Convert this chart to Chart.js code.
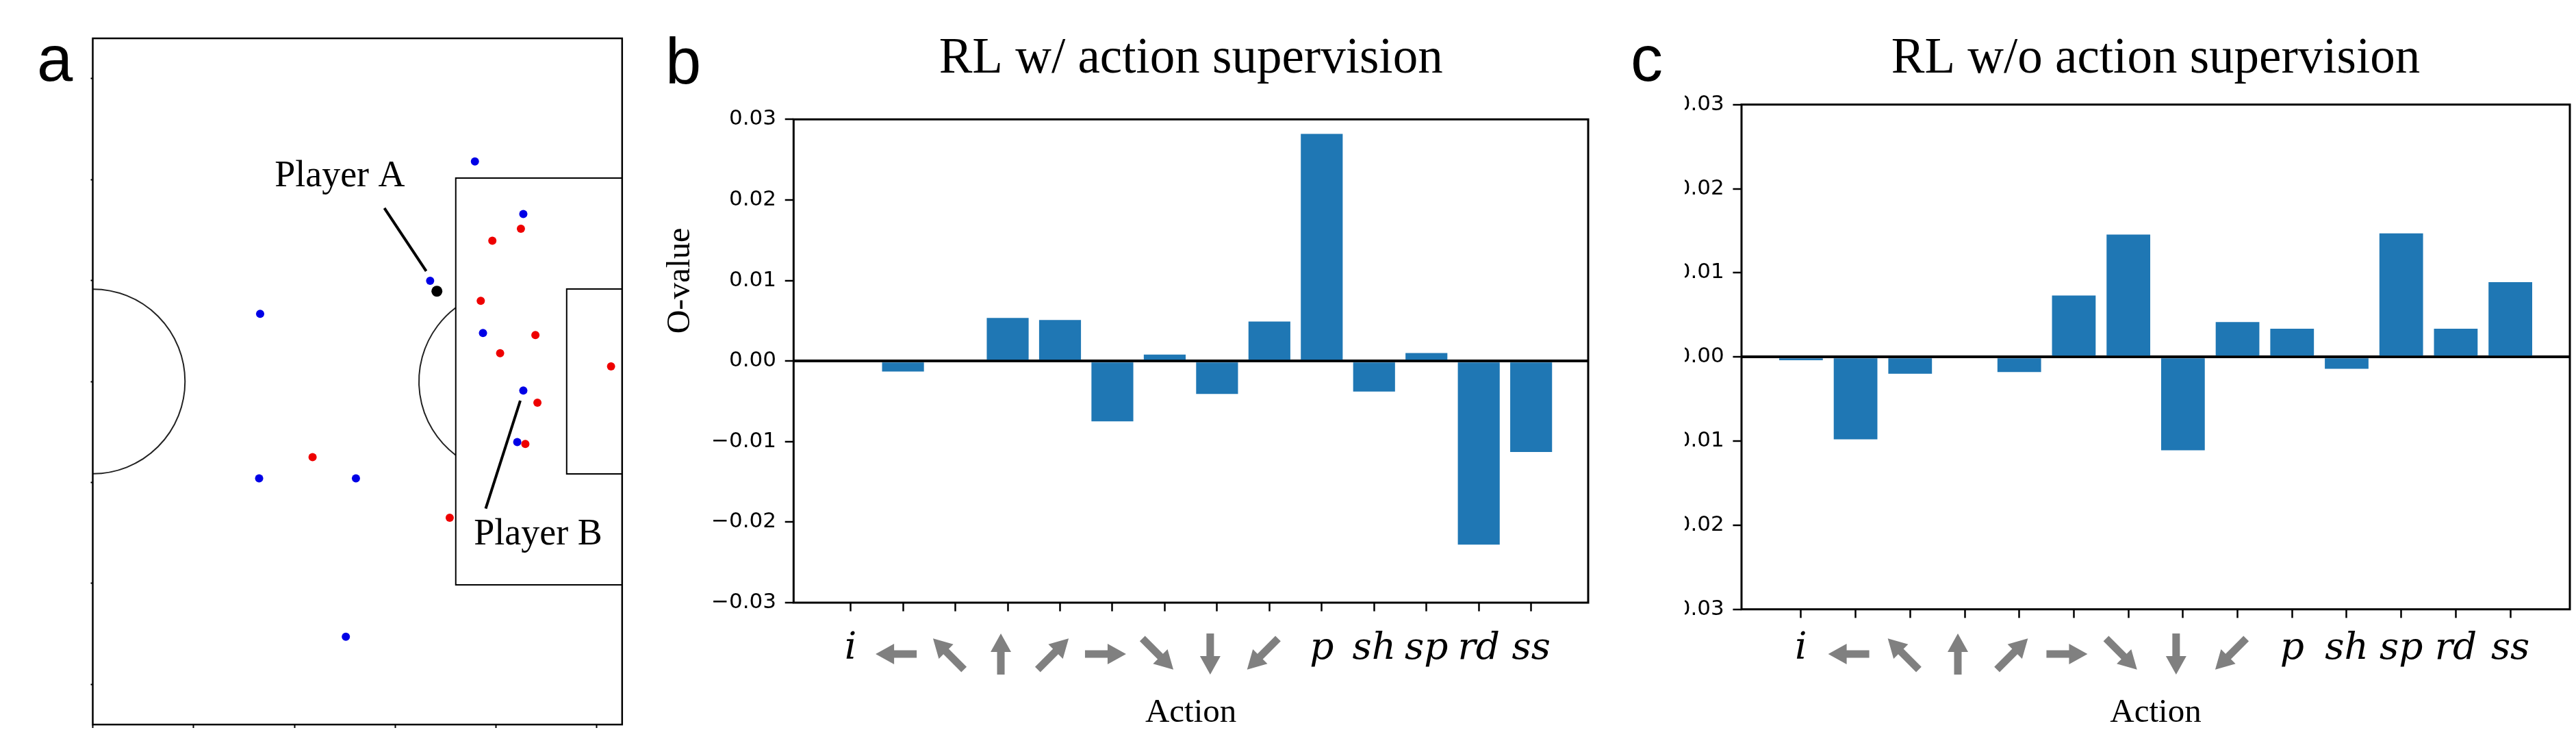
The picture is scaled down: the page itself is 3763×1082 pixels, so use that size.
<!DOCTYPE html>
<html lang="en">
<head>
<meta charset="UTF-8">
<title>Action O-values</title>
<script src="https://cdn.jsdelivr.net/npm/chart.js"></script>
<style>
  html, body { margin: 0; padding: 0; background: #fff; }
  body { width: 3763px; height: 1082px; position: relative; overflow: hidden; }
  canvas { position: absolute; top: 0; }
  #pitch { left: 0; }
  #withSup { left: 950px; }
  #withoutSup { left: 2350px; }
</style>
</head>
<body>
<canvas id="pitch" width="940" height="1082"></canvas>
<canvas id="withSup" width="1400" height="1082"></canvas>
<canvas id="withoutSup" width="1413" height="1082"></canvas>
<script>
// panel a - positions in metres (x from halfway line, y from centre line)
const bluePlayers = [[37.9, 21.8], [42.7, 16.6], [33.46, 9.98], [16.6, 6.7], [38.7, 4.8],
                     [42.7, -0.9], [42.1, -6.0], [16.5, -9.6], [26.1, -9.6], [25.1, -25.3]];
const redPlayers = [[42.46, 15.14], [39.63, 13.94], [38.48, 7.99], [43.9, 4.6], [40.4, 2.8],
                    [51.4, 1.5], [44.1, -2.1], [42.9, -6.2], [21.8, -7.5], [35.4, -13.5]];
const ball = [[34.13, 8.94]];
const pitchXTicks = [0, 10, 20, 30, 40, 50];
const pitchYTicks = [-30, -20, -10, 0, 10, 20, 30];
// pitch markings
const halfLength = 52.5, halfWidth = 34;
const centreRadius = 9.15, penaltySpot = 41.5;
const penaltyBox = [36, 20.16];
const goalArea = [47, 9.16];
// annotations: [label, textX, textY, lineFromX, lineFromY, lineToX, lineToY]
const playerNotes = [
  ['Player A', 24.5, 19.35, 28.92, 17.18, 33.07, 10.93],
  ['Player B', 44.16, -16.13, 42.4, -1.9, 38.97, -12.6]
];

// panels b and c
const actions = ['i', '←', '↖', '↑', '↗', '→', '↘', '↓', '↙', 'p', 'sh', 'sp', 'rd', 'ss'];
// direction (degrees) of the arrow icons, null = plain text label
const arrowDirs = [null, 180, 135, 90, 45, 0, -45, -90, -135, null, null, null, null, null];
const oWithSup = [0, -0.0013, 0, 0.00535, 0.0051, -0.0075, 0.0008, -0.0041, 0.0049, 0.0282, -0.0038, 0.001, -0.0228, -0.0113];
const oWithoutSup = [-0.0004, -0.0098, -0.002, 0, -0.0018, 0.0073, 0.01455, -0.0111, 0.00415, 0.00335, -0.0014, 0.0147, 0.00335, 0.0089];
const yTickValues = [-0.03, -0.02, -0.01, 0, 0.01, 0.02, 0.03];

const serif = '"Liberation Serif", "Times New Roman", serif';
const sans = '"Liberation Sans", Arial, sans-serif';

const framePlugin = {
  id: 'frame',
  afterDatasetsDraw(chart, args, opts) {
    const a = chart.chartArea, ctx = chart.ctx;
    ctx.save();
    ctx.strokeStyle = '#000';
    ctx.lineWidth = opts.width || 3;
    ctx.strokeRect(a.left, a.top, a.right - a.left, a.bottom - a.top);
    ctx.restore();
  }
};

// panel letters and other loose text
const extrasPlugin = {
  id: 'extras',
  afterDraw(chart, args, opts) {
    const ctx = chart.ctx;
    ctx.save();
    ctx.fillStyle = '#000';
    ctx.textBaseline = 'alphabetic';
    ctx.textAlign = 'left';
    ctx.font = '94px ' + sans;
    ctx.fillText(opts.letter, opts.letterX, opts.letterY);
    if (opts.ylabel) {
      ctx.translate(opts.ylabelX, opts.ylabelY);
      ctx.rotate(-Math.PI / 2);
      ctx.textAlign = 'center';
      ctx.font = '48px ' + serif;
      ctx.fillText(opts.ylabel, 0, 0);
    }
    ctx.restore();
  }
};

const clipPlugin = {
  id: 'clipLeft',
  beforeDraw(chart, args, opts) {
    const ctx = chart.ctx;
    ctx.save();
    ctx.beginPath();
    ctx.rect(opts.x, 0, chart.width - opts.x, chart.height);
    ctx.clip();
  },
  afterDraw(chart) {
    chart.ctx.restore();
  }
};

// grey arrow icons under the movement ticks
const arrowPlugin = {
  id: 'arrowTicks',
  afterDraw(chart, args, opts) {
    const x = chart.scales.x, ctx = chart.ctx;
    ctx.save();
    ctx.fillStyle = '#808080';
    arrowDirs.forEach((deg, i) => {
      if (deg === null) return;
      const diag = deg % 90 !== 0;
      const L = diag ? 64 : 60, hl = 27, hw = 30, sw = 11;
      ctx.save();
      ctx.translate(x.getPixelForValue(i) + opts.dx, opts.y);
      ctx.rotate(-deg * Math.PI / 180);
      ctx.beginPath();
      ctx.moveTo(-L / 2, -sw / 2);
      ctx.lineTo(L / 2 - hl, -sw / 2);
      ctx.lineTo(L / 2 - hl, -hw / 2);
      ctx.lineTo(L / 2, 0);
      ctx.lineTo(L / 2 - hl, hw / 2);
      ctx.lineTo(L / 2 - hl, sw / 2);
      ctx.lineTo(-L / 2, sw / 2);
      ctx.closePath();
      ctx.fill();
      ctx.restore();
    });
    ctx.restore();
  }
};

const pitchPlugin = {
  id: 'pitchLines',
  beforeDatasetsDraw(chart) {
    const x = chart.scales.x, y = chart.scales.y, ctx = chart.ctx, a = chart.chartArea;
    const px = v => x.getPixelForValue(v), py = v => y.getPixelForValue(v);
    const r = px(centreRadius) - px(0);
    ctx.save();
    ctx.beginPath();
    ctx.rect(a.left, a.top, a.right - a.left, a.bottom - a.top);
    ctx.clip();
    ctx.strokeStyle = '#222';
    ctx.lineWidth = 2;
    ctx.beginPath();
    ctx.arc(px(0), py(0), r, -Math.PI / 2, Math.PI / 2);
    ctx.stroke();
    const t = Math.acos((penaltySpot - penaltyBox[0]) / centreRadius);
    ctx.beginPath();
    ctx.arc(px(penaltySpot), py(0), r, Math.PI - t, Math.PI + t);
    ctx.stroke();
    ctx.strokeStyle = '#000';
    [penaltyBox, goalArea].forEach(b => {
      ctx.beginPath();
      ctx.moveTo(px(halfLength), py(b[1]));
      ctx.lineTo(px(b[0]), py(b[1]));
      ctx.lineTo(px(b[0]), py(-b[1]));
      ctx.lineTo(px(halfLength), py(-b[1]));
      ctx.stroke();
    });
    ctx.restore();
  },
  afterDatasetsDraw(chart) {
    const x = chart.scales.x, y = chart.scales.y, ctx = chart.ctx;
    const px = v => x.getPixelForValue(v), py = v => y.getPixelForValue(v);
    ctx.save();
    ctx.fillStyle = '#000';
    ctx.strokeStyle = '#000';
    ctx.lineWidth = 4;
    ctx.font = '54px ' + serif;
    ctx.textAlign = 'center';
    ctx.textBaseline = 'alphabetic';
    playerNotes.forEach(n => {
      ctx.fillText(n[0], px(n[1]), py(n[2]));
      ctx.beginPath();
      ctx.moveTo(px(n[3]), py(n[4]));
      ctx.lineTo(px(n[5]), py(n[6]));
      ctx.stroke();
    });
    ctx.restore();
  }
};

const toPoints = arr => arr.map(p => ({x: p[0], y: p[1]}));

new Chart(document.getElementById('pitch'), {
  type: 'scatter',
  data: {
    datasets: [
      {data: toPoints(bluePlayers), backgroundColor: '#0000e6', pointRadius: 6, borderWidth: 0},
      {data: toPoints(redPlayers), backgroundColor: '#ee0000', pointRadius: 6, borderWidth: 0},
      {data: toPoints(ball), backgroundColor: '#000', pointRadius: 8, borderWidth: 0}
    ]
  },
  options: {
    responsive: false,
    animation: false,
    layout: {padding: {left: 115.5, top: 56, right: 31.2, bottom: 4}},
    plugins: {
      legend: {display: false},
      tooltip: {enabled: false},
      frame: {width: 2.5},
      extras: {letter: 'a', letterX: 54, letterY: 118}
    },
    scales: {
      x: {
        type: 'linear', min: 0, max: halfLength,
        afterBuildTicks: s => { s.ticks = pitchXTicks.map(v => ({value: v})); },
        afterFit: s => { s.height = 20; },
        ticks: {display: false},
        grid: {drawOnChartArea: false, tickLength: 5, tickWidth: 2, tickColor: '#000'},
        border: {display: false}
      },
      y: {
        type: 'linear', min: -halfWidth, max: halfWidth,
        afterBuildTicks: s => { s.ticks = pitchYTicks.map(v => ({value: v})); },
        afterFit: s => { s.width = 20; },
        ticks: {display: false},
        grid: {drawOnChartArea: false, tickLength: 3, tickWidth: 2, tickColor: '#000'},
        border: {display: false}
      }
    }
  },
  plugins: [pitchPlugin, framePlugin, extrasPlugin]
});

const fmtTick = v => (v < -1e-9 ? '\u2212' : '') + Math.abs(v).toFixed(2);
const isZero = v => Math.abs(v) < 1e-9;

function oValueChart(id, values, title, g) {
  return new Chart(document.getElementById(id), {
    type: 'bar',
    data: {
      datasets: [{
        data: values.map((v, i) => ({x: i, y: v})),
        backgroundColor: '#1f77b4',
        borderWidth: 0,
        barPercentage: 0.8,
        categoryPercentage: 1
      }]
    },
    options: {
      responsive: false,
      animation: false,
      layout: {padding: {left: 0, top: 0, right: g.padR, bottom: g.padB}},
      plugins: {
        legend: {display: false},
        tooltip: {enabled: false},
        title: {
          display: true, text: title, fullSize: false, color: '#000',
          font: {family: serif, size: 73, weight: 'normal', lineHeight: 1},
          padding: {top: 50.5, bottom: g.titleGap}
        },
        frame: {width: 3},
        extras: g.extras,
        clipLeft: {x: g.clipX || 0},
        arrowTicks: {dx: -10, y: 955}
      },
      scales: {
        x: {
          type: 'linear', min: -1.09, max: actions.length - 1 + 1.09, offset: false,
          afterBuildTicks: s => { s.ticks = actions.map((a, i) => ({value: i})); },
          afterFit: s => { s.height = g.xAxisH; },
          ticks: {
            autoSkip: false, maxRotation: 0, padding: g.labelPad, color: '#000',
            callback: v => arrowDirs[v] === null ? actions[v] : '',
            font: {family: '"DejaVu Serif", serif', size: 55, style: 'italic', lineHeight: 1}
          },
          grid: {drawOnChartArea: false, offset: false, tickLength: 12.6, tickWidth: 2.5, tickColor: '#000'},
          border: {display: false},
          title: {
            display: true, text: 'Action', color: '#000',
            font: {family: serif, size: 49, lineHeight: 1},
            padding: {top: 0, bottom: 4}
          }
        },
        y: {
          min: -0.03, max: 0.03, z: 1,
          afterBuildTicks: s => { s.ticks = yTickValues.map(v => ({value: v})); },
          afterFit: s => { s.width = g.yAxisW; },
          ticks: {padding: 12.7, color: '#000', font: {family: '"DejaVu Sans"', size: 31}, callback: v => fmtTick(v)},
          grid: {
            color: c => isZero(c.tick.value) ? '#000' : 'rgba(0,0,0,0)',
            lineWidth: c => isZero(c.tick.value) ? 4 : 0,
            tickColor: '#000', tickWidth: 2.5, tickLength: 12.6
          },
          border: {display: false}
        }
      }
    },
    plugins: [clipPlugin, framePlugin, extrasPlugin, arrowPlugin]
  });
}

oValueChart('withSup', oWithSup, 'RL w/ action supervision', {
  padR: 30, padB: 12, xAxisH: 190, yAxisW: 209.3, titleGap: 50.8, labelPad: 28,
  extras: {letter: 'b', letterX: 22, letterY: 122, ylabel: 'O-value', ylabelX: 57, ylabelY: 410}
});

oValueChart('withoutSup', oWithoutSup, 'RL w/o action supervision', {
  padR: 9, padB: 12, xAxisH: 180.3, yAxisW: 194, titleGap: 29.2, labelPad: 18.2, clipX: 111,
  extras: {letter: 'c', letterX: 32, letterY: 118}
});
</script>
</body>
</html>
